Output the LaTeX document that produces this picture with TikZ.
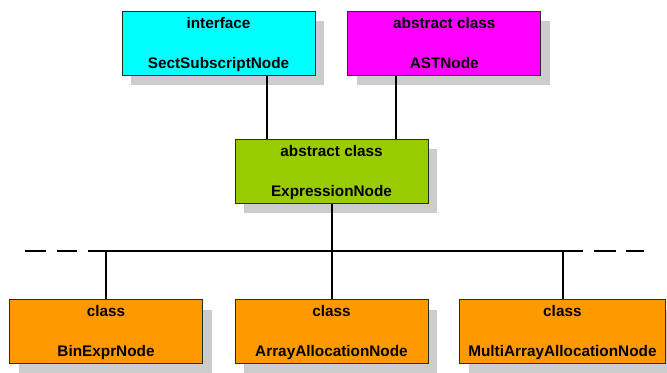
\documentclass[tikz,border=0pt]{standalone}
\usepackage{fontspec}
\setmainfont{Liberation Sans}
\usepackage{tikz}
\usetikzlibrary{positioning, shadows}

\definecolor{ifacecyan}{HTML}{00FFFF}
\definecolor{abstractpink}{HTML}{FF00FF}
\definecolor{exprgreen}{HTML}{99CC00}
\definecolor{leaforange}{HTML}{FF9900}
\definecolor{shadowgray}{HTML}{CCCCCC}
\definecolor{boxborder}{HTML}{2B2B2B}

\begin{document}
\begin{tikzpicture}[x=0.75pt, y=-0.75pt,
    classbox/.style={rectangle, draw=boxborder, line width=0.75pt, inner sep=0pt,
        minimum width=144.75pt, minimum height=48pt,
        drop shadow={shadow xshift=7.1pt, shadow yshift=-7.5pt, fill=shadowgray, opacity=1}},
    boxtext/.style={inner sep=0pt, font=\fontsize{11.5}{13}\selectfont\bfseries},
    connector/.style={black, line width=1.5pt}]
\useasboundingbox (0,0) rectangle (667,372);

\node[classbox, fill=ifacecyan] (iface) at (218.5,43) {};
\node[boxtext, below=13.3pt of iface.north, anchor=base] (ifacekind) {interface};
\node[boxtext, above=5.6pt of iface.south, anchor=base] (ifacename) {SectSubscriptNode};

\node[classbox, fill=abstractpink] (astnode) at (444.25,43) {};
\node[boxtext, below=13.3pt of astnode.north, anchor=base] (astkind) {abstract class};
\node[boxtext, above=5.6pt of astnode.south, anchor=base] (astname) {ASTNode};

\node[classbox, fill=exprgreen] (exprnode) at (331.5,171) {};
\node[boxtext, below=13.3pt of exprnode.north, anchor=base] (exprkind) {abstract class};
\node[boxtext, above=5.6pt of exprnode.south, anchor=base] (exprname) {ExpressionNode};

\node[classbox, fill=leaforange] (binexpr) at (106,331.5) {};
\node[boxtext, below=13.3pt of binexpr.north, anchor=base] (binkind) {class};
\node[boxtext, above=5.6pt of binexpr.south, anchor=base] (binname) {BinExprNode};

\node[classbox, fill=leaforange] (arrayalloc) at (331.5,331.5) {};
\node[boxtext, below=13.3pt of arrayalloc.north, anchor=base] (arraykind) {class};
\node[boxtext, above=5.6pt of arrayalloc.south, anchor=base] (arrayname) {ArrayAllocationNode};

\node[classbox, fill=leaforange, minimum width=155pt] (multialloc) at (562.4,331.5) {};
\node[boxtext, below=13.3pt of multialloc.north, anchor=base] (multikind) {class};
\node[boxtext, above=5.6pt of multialloc.south, anchor=base] (multiname) {MultiArrayAllocationNode};

% inheritance lines
\draw[connector] ([xshift=36.4pt]iface.south) -- ([xshift=36.4pt]iface.south |- exprnode.north);
\draw[connector] ([xshift=-36.2pt]astnode.south) -- ([xshift=-36.2pt]astnode.south |- exprnode.north);

\coordinate (bus) at (331.5,251);
\coordinate (buswest) at (88.3,251);
\coordinate (buseast) at (583.3,251);
\draw[connector] (exprnode.south) -- (bus);
\draw[connector] (buswest) -- (buseast);
\draw[connector, dash pattern=on 15.5pt off 8pt] (77.3,251) -- (25,251);
\draw[connector, dash pattern=on 16pt off 7.8pt] (594.3,251) -- (644.3,251);

\draw[connector] (binexpr.north) -- (binexpr.north |- bus);
\draw[connector] (arrayalloc.north) -- (bus);
\draw[connector] ([xshift=0.7pt]multialloc.north) -- ([xshift=0.7pt]multialloc.north |- bus);

\end{tikzpicture}
\end{document}
